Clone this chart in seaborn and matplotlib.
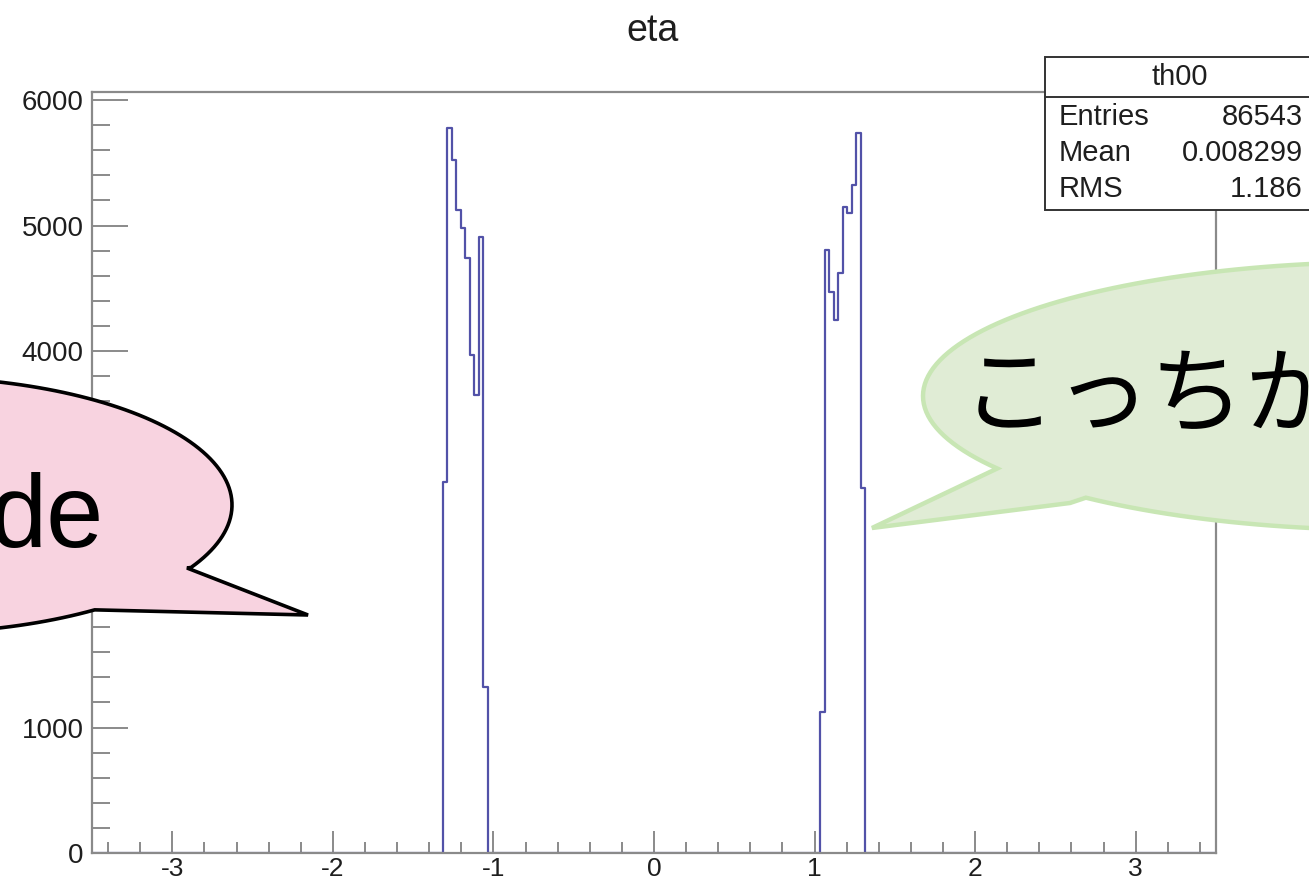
import numpy as np
import pandas as pd
import matplotlib
matplotlib.use("Agg")
import matplotlib.pyplot as plt
from matplotlib.path import Path
from matplotlib.patches import PathPatch, Rectangle
from matplotlib.transforms import Affine2D
from matplotlib.ticker import MultipleLocator, FixedLocator
import seaborn as sns

# ---- histogram definition: 250 bins on [-3.5, 3.5] ----
n_bins = 250
eta_range = (-3.5, 3.5)

# filled bins: index of the first filled bin and its counts
left_first_bin = 78
left_counts = [2958, 5775, 5522, 5124, 4978, 4739, 3968, 3649, 4911, 1325]
right_first_bin = 162
right_counts = [1126, 4805, 4473, 4247, 4619, 5150, 5097, 5323, 5735, 2908]

hist_title = "eta"
hist_name = "th00"
stat_names = ["Entries", "Mean", "RMS"]
stat_values = ["86543", "0.008299", "1.186"]

x_ticks = [-3, -2, -1, 0, 1, 2, 3]
y_ticks = [0, 1000, 2000, 3000, 4000, 5000, 6000]
y_top = 6064

left_note = "de"
right_note = "こっちか"

# ---- build the weighted sample ----
edges = np.linspace(eta_range[0], eta_range[1], n_bins + 1)
centers = 0.5 * (edges[:-1] + edges[1:])
df = pd.DataFrame({
    "eta": np.concatenate([
        centers[left_first_bin:left_first_bin + len(left_counts)],
        centers[right_first_bin:right_first_bin + len(right_counts)],
    ]),
    "count": np.array(left_counts + right_counts, dtype=float),
})

# ---- style ----
sns.set_style("ticks")
plt.rcParams["font.family"] = ["Liberation Sans", "Noto Sans CJK JP", "DejaVu Sans"]

W, H = 1309, 884
fig = plt.figure(figsize=(W / 100, H / 100), dpi=100)
fig.patch.set_facecolor("white")
ax = fig.add_axes([92 / W, 1 - 853 / H, (1216 - 92) / W, (853 - 92) / H])

sns.histplot(data=df, x="eta", weights="count", bins=edges.tolist(),
             element="step", fill=False, color="#5252a8", linewidth=1.6, ax=ax)

ax.set_xlim(*eta_range)
ax.set_ylim(0, y_top)
ax.set_xlabel("")
ax.set_ylabel("")

axis_grey = "#8a8a8a"
for side in ["left", "bottom", "top", "right"]:
    ax.spines[side].set_visible(True)
    ax.spines[side].set_color(axis_grey)
    ax.spines[side].set_linewidth(1.6)
    ax.spines[side].set_zorder(5)

ax.xaxis.set_major_locator(FixedLocator(x_ticks))
ax.xaxis.set_minor_locator(MultipleLocator(0.2))
ax.yaxis.set_major_locator(FixedLocator(y_ticks))
ax.yaxis.set_minor_locator(MultipleLocator(200))
ax.set_xticklabels([str(t) for t in x_ticks])
ax.set_yticklabels([str(t) for t in y_ticks])

ax.tick_params(axis="x", which="major", direction="in", length=16, width=1.4,
               color=axis_grey, labelsize=19, pad=3, labelcolor="#1e1e1e")
ax.tick_params(axis="x", which="minor", direction="in", length=8, width=1.4,
               color=axis_grey)
ax.tick_params(axis="y", which="major", direction="in", length=26, width=1.4,
               color=axis_grey, labelsize=20, pad=6, labelcolor="#1e1e1e")
ax.tick_params(axis="y", which="minor", direction="in", length=13, width=1.4,
               color=axis_grey)
ax.tick_params(top=False, right=False, which="both")

# ---- pixel transform (origin top-left) ----
pix = Affine2D().scale(1 / W, -1 / H).translate(0, 1) + fig.transFigure

# title
fig.text(653 / W, 1 - 31 / H, hist_title, ha="center", va="center",
         fontsize=27, color="#1e1e1e")

# statistics box
box = Rectangle((1045, 57), 300, 153, transform=pix, facecolor="white",
                edgecolor="#333333", linewidth=1.4, zorder=6)
fig.add_artist(box)
fig.add_artist(plt.Line2D([1045, 1345], [97, 97], transform=pix,
                          color="#333333", linewidth=1.4, zorder=7))
fig.text(1180 / W, 1 - 77 / H, hist_name, ha="center", va="center",
         fontsize=21, color="#1e1e1e", zorder=8)
for i, (name, val) in enumerate(zip(stat_names, stat_values)):
    yy = 117 + 36 * i
    fig.text(1059 / W, 1 - yy / H, name, ha="left", va="center",
             fontsize=21, color="#1e1e1e", zorder=8)
    fig.text(1303 / W, 1 - yy / H, val, ha="right", va="center",
             fontsize=21, color="#1e1e1e", zorder=8)


def bubble_path(cx, cy, a, b, t_start, t_end, tail):
    t = np.linspace(t_start, t_end, 200)
    pts = np.column_stack([cx + a * np.cos(t), cy + b * np.sin(t)])
    pts = np.vstack([pts, tail, pts[:1]])
    codes = [Path.MOVETO] + [Path.LINETO] * (len(pts) - 2) + [Path.CLOSEPOLY]
    return Path(pts, codes)


# pink speech bubble (left)
pink = bubble_path(-90, 505, 322, 128, 0.96, 0.51 + 2 * np.pi,
                   [[187, 568], [308, 615]])
fig.add_artist(PathPatch(pink, transform=pix, facecolor="#f8d3e0",
                         edgecolor="black", linewidth=2.6, zorder=10,
                         joinstyle="miter"))
fig.text(-10 / W, 1 - 547 / H, left_note, ha="left", va="baseline",
         fontsize=74, color="black", zorder=11)

# green speech bubble (right)
green = bubble_path(1390, 396, 467, 134, 2.57, 2.28 + 2 * np.pi,
                    [[1070, 503], [872, 528]])
fig.add_artist(PathPatch(green, transform=pix, facecolor="#e0ecd5",
                         edgecolor="#c8e6b4", linewidth=3.2, zorder=10,
                         joinstyle="miter"))
fig.text(962 / W, 1 - 398 / H, right_note, ha="left", va="center",
         fontsize=68, color="black", zorder=11,
         family=["Noto Sans CJK JP", "DejaVu Sans"])

fig.savefig("out.png", dpi=100)
